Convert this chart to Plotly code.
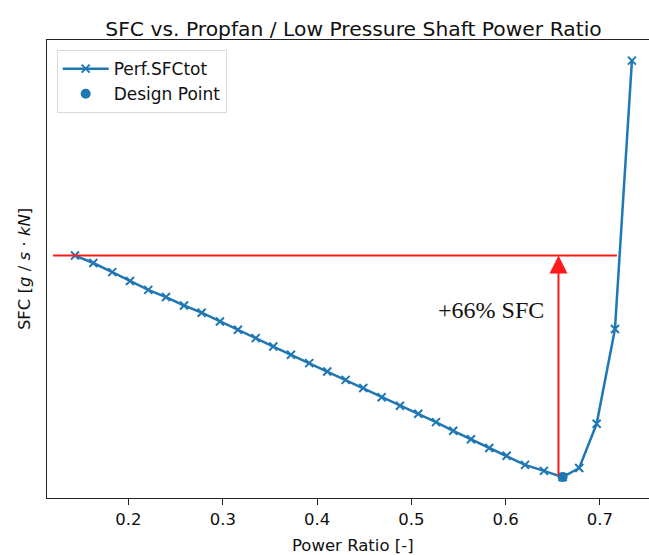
import plotly.graph_objects as go

# ---- data ----
power_ratio = [0.1433, 0.1627, 0.1828, 0.2016, 0.2210, 0.2398, 0.2589, 0.2776,
               0.2970, 0.3161, 0.3349, 0.3536, 0.3723, 0.3917, 0.4108, 0.4303,
               0.4490, 0.4685, 0.4879, 0.5073, 0.5261, 0.5444, 0.5632, 0.5826,
               0.6011, 0.6205, 0.6406, 0.6604, 0.6780, 0.6965, 0.7159, 0.7339]
sfc_tot = [23.23, 22.92, 22.54, 22.17, 21.80, 21.50, 21.15, 20.85,
           20.48, 20.14, 19.79, 19.44, 19.10, 18.75, 18.40, 18.05,
           17.71, 17.33, 16.97, 16.64, 16.29, 15.93, 15.58, 15.21,
           14.89, 14.51, 14.26, 14.00, 14.38, 16.22, 20.17, 31.35]
design_x = [0.6604]
design_sfc = [14.00]

x_ticks = [0.2, 0.3, 0.4, 0.5, 0.6, 0.7]
x_tick_labels = ["0.2", "0.3", "0.4", "0.5", "0.6", "0.7"]

# annotation geometry (red marks)
ref_line_x = [0.120, 0.718]
arrow_x = 0.656
label_text = "+66% SFC"
label_pos = (0.584, 20.97)

BLUE = "#1f77b4"
RED = "#ff1a1a"
FONT = "DejaVu Sans"

fig = go.Figure()

fig.add_trace(go.Scatter(
    x=power_ratio, y=sfc_tot, mode="lines+markers", name="Perf.SFCtot",
    line=dict(color=BLUE, width=2.5),
    marker=dict(symbol="x-thin", size=8, color=BLUE, line=dict(width=2, color=BLUE)),
))

# red reference line at the SFC level of the first point
fig.add_trace(go.Scatter(
    x=ref_line_x, y=[sfc_tot[0], sfc_tot[0]], mode="lines",
    line=dict(color=RED, width=2), showlegend=False, hoverinfo="skip",
))

fig.add_trace(go.Scatter(
    x=design_x, y=design_sfc, mode="markers", name="Design Point",
    marker=dict(symbol="circle", size=10, color=BLUE),
))

# arrow from the design point up to the reference level
fig.add_annotation(
    x=arrow_x, y=sfc_tot[0], ax=arrow_x, ay=design_sfc[0],
    xref="x", yref="y", axref="x", ayref="y",
    showarrow=True, arrowhead=2, arrowsize=1.8, arrowwidth=2, arrowcolor=RED, text="",
)
fig.add_annotation(
    x=label_pos[0], y=label_pos[1], xref="x", yref="y", text=label_text,
    showarrow=False, font=dict(family="Liberation Serif", size=24, color="#111"),
    xanchor="center", yanchor="middle",
)

# axis titles as annotations
fig.add_annotation(
    x=-0.038, y=0.5, xref="paper", yref="paper", textangle=-90,
    text="SFC [<i>g</i> / <i>s</i> · <i>kN</i>]", showarrow=False,
    font=dict(family=FONT, size=16.5, color="#111"), xanchor="center", yanchor="middle",
)
fig.add_annotation(
    x=0.509, y=-0.103, xref="paper", yref="paper", text="Power Ratio [-]",
    showarrow=False, font=dict(family=FONT, size=16.5, color="#111"),
    xanchor="center", yanchor="middle",
)

fig.update_layout(
    width=649, height=555,
    margin=dict(l=47, r=0, t=40, b=57),
    paper_bgcolor="white", plot_bgcolor="white",
    title=dict(text="SFC vs. Propfan / Low Pressure Shaft Power Ratio",
               font=dict(family=FONT, size=20.3, color="#111"),
               x=353.5 / 649, xref="container", xanchor="center",
               y=1 - 28.5 / 555, yref="container", yanchor="middle"),
    legend=dict(x=0.0161, y=0.978, xanchor="left", yanchor="top",
                bgcolor="white", bordercolor="#dadada", borderwidth=1,
                itemwidth=46,
                font=dict(family=FONT, size=17, color="#111")),
    showlegend=True,
)
fig.update_xaxes(
    range=[0.1136, 0.7520], tickvals=x_ticks, ticktext=x_tick_labels,
    showgrid=False, zeroline=False, showline=True, mirror=True,
    linecolor="#222", linewidth=1.3, ticks="outside", ticklen=6, tickwidth=1.3,
    tickcolor="#222", tickfont=dict(family=FONT, size=16.5, color="#111"),
)
fig.update_yaxes(
    range=[13.13, 32.21], showticklabels=False, ticks="",
    showgrid=False, zeroline=False, showline=True, mirror=False,
    linecolor="#222", linewidth=1.3,
)

fig.write_html("out.html")
